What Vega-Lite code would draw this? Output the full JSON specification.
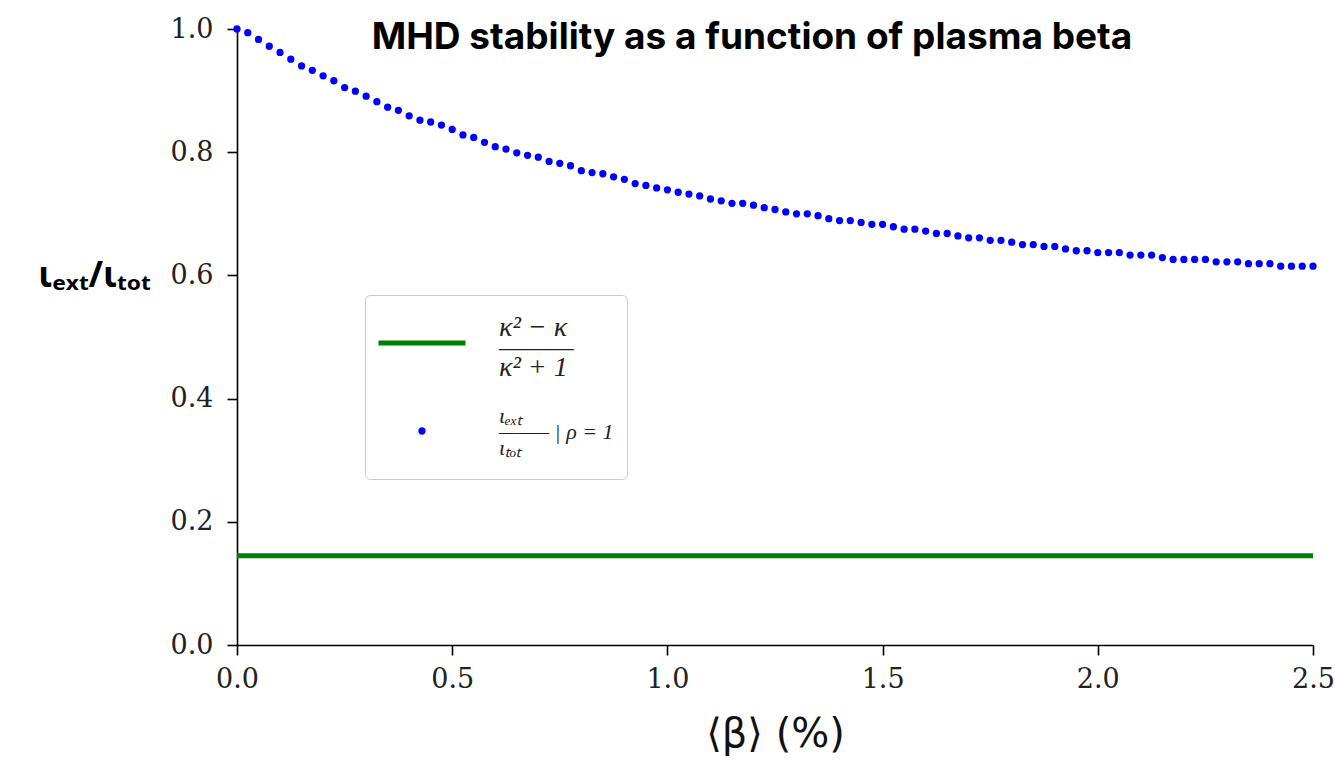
{
  "$schema": "https://vega.github.io/schema/vega-lite/v6.json",
  "autosize": "none",
  "width": 1076,
  "height": 616,
  "padding": {"left": 237, "top": 29, "right": 22, "bottom": 120},
  "background": "white",
  "config": {
    "view": {"stroke": null},
    "axis": {
      "domainColor": "black", "domainWidth": 1.6,
      "tickColor": "black", "tickWidth": 1.6, "tickSize": 10,
      "labelFont": "DejaVu Serif", "labelFontSize": 27, "labelColor": "#222222",
      "grid": false, "labelOverlap": false, "labelFlush": false
    }
  },
  "title": {
    "text": "MHD stability as a function of plasma beta",
    "font": "Inter", "fontSize": 37, "fontWeight": "bold", "color": "black",
    "anchor": "middle", "frame": "group", "dx": -23, "baseline": "alphabetic", "offset": -71
  },
  "datasets": {
    "dots": [
      {"beta": 0.000, "ratio": 1.000, "series": "iota"},
      {"beta": 0.025, "ratio": 0.994, "series": "iota"},
      {"beta": 0.050, "ratio": 0.983, "series": "iota"},
      {"beta": 0.075, "ratio": 0.972, "series": "iota"},
      {"beta": 0.100, "ratio": 0.962, "series": "iota"},
      {"beta": 0.125, "ratio": 0.951, "series": "iota"},
      {"beta": 0.150, "ratio": 0.940, "series": "iota"},
      {"beta": 0.175, "ratio": 0.933, "series": "iota"},
      {"beta": 0.200, "ratio": 0.924, "series": "iota"},
      {"beta": 0.225, "ratio": 0.916, "series": "iota"},
      {"beta": 0.250, "ratio": 0.905, "series": "iota"},
      {"beta": 0.275, "ratio": 0.899, "series": "iota"},
      {"beta": 0.300, "ratio": 0.891, "series": "iota"},
      {"beta": 0.325, "ratio": 0.882, "series": "iota"},
      {"beta": 0.350, "ratio": 0.873, "series": "iota"},
      {"beta": 0.375, "ratio": 0.868, "series": "iota"},
      {"beta": 0.400, "ratio": 0.859, "series": "iota"},
      {"beta": 0.425, "ratio": 0.852, "series": "iota"},
      {"beta": 0.450, "ratio": 0.849, "series": "iota"},
      {"beta": 0.475, "ratio": 0.844, "series": "iota"},
      {"beta": 0.500, "ratio": 0.837, "series": "iota"},
      {"beta": 0.525, "ratio": 0.828, "series": "iota"},
      {"beta": 0.550, "ratio": 0.824, "series": "iota"},
      {"beta": 0.575, "ratio": 0.816, "series": "iota"},
      {"beta": 0.600, "ratio": 0.809, "series": "iota"},
      {"beta": 0.625, "ratio": 0.805, "series": "iota"},
      {"beta": 0.650, "ratio": 0.799, "series": "iota"},
      {"beta": 0.675, "ratio": 0.795, "series": "iota"},
      {"beta": 0.700, "ratio": 0.792, "series": "iota"},
      {"beta": 0.725, "ratio": 0.785, "series": "iota"},
      {"beta": 0.750, "ratio": 0.782, "series": "iota"},
      {"beta": 0.775, "ratio": 0.778, "series": "iota"},
      {"beta": 0.800, "ratio": 0.770, "series": "iota"},
      {"beta": 0.825, "ratio": 0.767, "series": "iota"},
      {"beta": 0.850, "ratio": 0.765, "series": "iota"},
      {"beta": 0.875, "ratio": 0.760, "series": "iota"},
      {"beta": 0.900, "ratio": 0.756, "series": "iota"},
      {"beta": 0.925, "ratio": 0.749, "series": "iota"},
      {"beta": 0.950, "ratio": 0.746, "series": "iota"},
      {"beta": 0.975, "ratio": 0.742, "series": "iota"},
      {"beta": 1.000, "ratio": 0.739, "series": "iota"},
      {"beta": 1.025, "ratio": 0.735, "series": "iota"},
      {"beta": 1.050, "ratio": 0.732, "series": "iota"},
      {"beta": 1.075, "ratio": 0.729, "series": "iota"},
      {"beta": 1.100, "ratio": 0.724, "series": "iota"},
      {"beta": 1.125, "ratio": 0.721, "series": "iota"},
      {"beta": 1.150, "ratio": 0.717, "series": "iota"},
      {"beta": 1.175, "ratio": 0.717, "series": "iota"},
      {"beta": 1.200, "ratio": 0.714, "series": "iota"},
      {"beta": 1.225, "ratio": 0.710, "series": "iota"},
      {"beta": 1.250, "ratio": 0.707, "series": "iota"},
      {"beta": 1.275, "ratio": 0.703, "series": "iota"},
      {"beta": 1.300, "ratio": 0.700, "series": "iota"},
      {"beta": 1.325, "ratio": 0.700, "series": "iota"},
      {"beta": 1.350, "ratio": 0.697, "series": "iota"},
      {"beta": 1.375, "ratio": 0.692, "series": "iota"},
      {"beta": 1.400, "ratio": 0.689, "series": "iota"},
      {"beta": 1.425, "ratio": 0.689, "series": "iota"},
      {"beta": 1.450, "ratio": 0.686, "series": "iota"},
      {"beta": 1.475, "ratio": 0.683, "series": "iota"},
      {"beta": 1.500, "ratio": 0.683, "series": "iota"},
      {"beta": 1.525, "ratio": 0.679, "series": "iota"},
      {"beta": 1.550, "ratio": 0.675, "series": "iota"},
      {"beta": 1.575, "ratio": 0.675, "series": "iota"},
      {"beta": 1.600, "ratio": 0.672, "series": "iota"},
      {"beta": 1.625, "ratio": 0.668, "series": "iota"},
      {"beta": 1.650, "ratio": 0.668, "series": "iota"},
      {"beta": 1.675, "ratio": 0.664, "series": "iota"},
      {"beta": 1.700, "ratio": 0.661, "series": "iota"},
      {"beta": 1.725, "ratio": 0.661, "series": "iota"},
      {"beta": 1.750, "ratio": 0.657, "series": "iota"},
      {"beta": 1.775, "ratio": 0.657, "series": "iota"},
      {"beta": 1.800, "ratio": 0.654, "series": "iota"},
      {"beta": 1.825, "ratio": 0.650, "series": "iota"},
      {"beta": 1.850, "ratio": 0.650, "series": "iota"},
      {"beta": 1.875, "ratio": 0.647, "series": "iota"},
      {"beta": 1.900, "ratio": 0.647, "series": "iota"},
      {"beta": 1.925, "ratio": 0.643, "series": "iota"},
      {"beta": 1.950, "ratio": 0.640, "series": "iota"},
      {"beta": 1.975, "ratio": 0.640, "series": "iota"},
      {"beta": 2.000, "ratio": 0.637, "series": "iota"},
      {"beta": 2.025, "ratio": 0.637, "series": "iota"},
      {"beta": 2.050, "ratio": 0.637, "series": "iota"},
      {"beta": 2.075, "ratio": 0.633, "series": "iota"},
      {"beta": 2.100, "ratio": 0.633, "series": "iota"},
      {"beta": 2.125, "ratio": 0.633, "series": "iota"},
      {"beta": 2.150, "ratio": 0.629, "series": "iota"},
      {"beta": 2.175, "ratio": 0.626, "series": "iota"},
      {"beta": 2.200, "ratio": 0.626, "series": "iota"},
      {"beta": 2.225, "ratio": 0.626, "series": "iota"},
      {"beta": 2.250, "ratio": 0.626, "series": "iota"},
      {"beta": 2.275, "ratio": 0.622, "series": "iota"},
      {"beta": 2.300, "ratio": 0.622, "series": "iota"},
      {"beta": 2.325, "ratio": 0.622, "series": "iota"},
      {"beta": 2.350, "ratio": 0.619, "series": "iota"},
      {"beta": 2.375, "ratio": 0.619, "series": "iota"},
      {"beta": 2.400, "ratio": 0.619, "series": "iota"},
      {"beta": 2.425, "ratio": 0.615, "series": "iota"},
      {"beta": 2.450, "ratio": 0.615, "series": "iota"},
      {"beta": 2.475, "ratio": 0.615, "series": "iota"},
      {"beta": 2.500, "ratio": 0.615, "series": "iota"}
    ],
    "kappa": [
      {"beta": 0.0, "ratio": 0.145, "series": "kappa"},
      {"beta": 2.5, "ratio": 0.145, "series": "kappa"}
    ]
  },
  "encoding": {
    "x": {
      "field": "beta", "type": "quantitative",
      "scale": {"domain": [0, 2.5], "nice": false, "zero": false},
      "axis": {
        "values": [0, 0.5, 1, 1.5, 2, 2.5], "format": ".1f", "labelPadding": 11,
        "title": "⟨β⟩ (%)", "titleFont": "DejaVu Sans", "titleFontSize": 40,
        "titleFontWeight": "normal", "titleColor": "#111111", "titlePadding": 22
      }
    },
    "y": {
      "field": "ratio", "type": "quantitative",
      "scale": {"domain": [0, 1], "nice": false, "zero": false},
      "axis": {
        "values": [0, 0.2, 0.4, 0.6, 0.8, 1.0], "format": ".1f", "labelPadding": 14,
        "title": "ιₑₓₜ/ιₜₒₜ", "titleFont": "Noto Sans", "titleFontSize": 35,
        "titleFontWeight": "bold", "titleColor": "black", "titleAngle": 0,
        "titleAlign": "right", "titleBaseline": "middle", "titleX": -87, "titleY": 246
      }
    },
    "color": {
      "field": "series", "type": "nominal",
      "scale": {"domain": ["kappa", "iota"], "range": ["#008000", "#0000ff"]},
      "legend": {
        "title": null, "orient": "none", "legendX": 128, "legendY": 266,
        "padding": 13, "strokeColor": "#cccccc", "fillColor": "white", "cornerRadius": 5,
        "labelFont": "Liberation Serif", "labelFontSize": 28, "labelColor": "#222222",
        "labelFontStyle": "italic", "labelLimit": 400, "labelOffset": 66, "symbolOffset": 33,
        "rowPadding": 14, "clipHeight": 70,
        "labelExpr": "datum.value === 'kappa' ? [' κ² − κ', '———', ' κ² + 1'] : [' ιₑₓₜ', '——– | ρ = 1', ' ιₜₒₜ']",
        "encode": {
          "symbols": {
            "update": {
              "shape": {"signal": "datum.value === 'kappa' ? 'stroke' : 'circle'"},
              "size": {"signal": "datum.value === 'kappa' ? 7569 : 53"},
              "strokeWidth": {"signal": "datum.value === 'kappa' ? 5 : 0"},
              "stroke": {"signal": "datum.value === 'kappa' ? '#008000' : '#0000ff'"},
              "fill": {"signal": "datum.value === 'kappa' ? 'transparent' : '#0000ff'"},
              "opacity": {"value": 1}
            }
          },
          "labels": {
            "update": {
              "fontSize": {"signal": "datum.value === 'kappa' ? 28 : 22"},
              "lineHeight": {"signal": "datum.value === 'kappa' ? 20 : 16"},
              "dy": {"signal": "datum.value === 'kappa' ? -15 : -15"}
            }
          }
        }
      }
    }
  },
  "layer": [
    {
      "data": {"name": "kappa"},
      "mark": {"type": "line", "strokeWidth": 5}
    },
    {
      "data": {"name": "dots"},
      "mark": {"type": "point", "filled": true, "size": 53, "opacity": 1}
    }
  ]
}
